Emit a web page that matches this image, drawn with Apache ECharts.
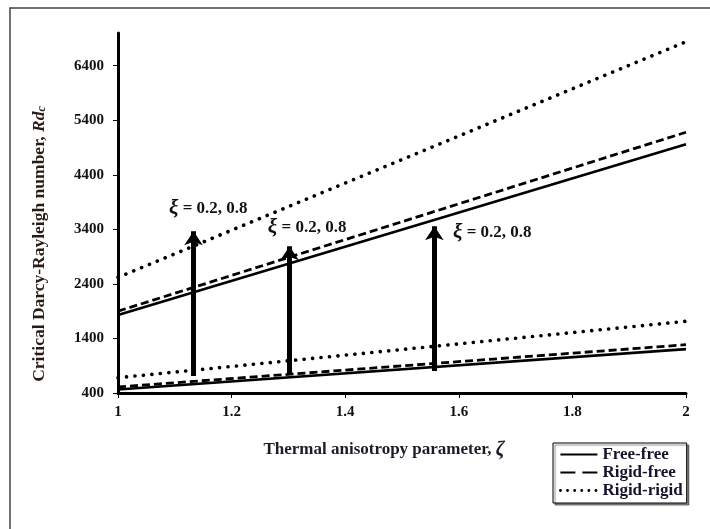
<!DOCTYPE html>
<html>
<head>
<meta charset="utf-8">
<script src="https://cdn.jsdelivr.net/npm/echarts@6/dist/echarts.min.js"></script>
<style>
  html, body { margin: 0; padding: 0; background: #fff; }
  #chart { width: 710px; height: 529px; }
</style>
</head>
<body>
<div id="chart"></div>
<script>
// Thermal anisotropy parameter values at the two ends of each line
const zeta = [1, 2];

// Critical Darcy-Rayleigh number, lower group (xi = 0.2) and upper group (xi = 0.8)
const freeFreeLow = [465, 1205];
const freeFreeHigh = [1830, 4960];
const rigidFreeLow = [510, 1285];
const rigidFreeHigh = [1900, 5180];
const rigidRigidLow = [680, 1715];
const rigidRigidHigh = [2520, 6840];

// Y tick labels
const yTicks = [400, 1400, 2400, 3400, 4400, 5400, 6400];

// Arrows from the xi = 0.2 curve to the xi = 0.8 curve
const arrowZeta = [1.133, 1.302, 1.557];
const arrowFrom = [713, 750, 805];
const arrowTo = [3365, 3090, 3455];

// Arrow captions
const captionZeta = [1.159, 1.333, 1.659];
const captionValue = [3787, 3437, 3345];
const captionText = 'ξ = 0.2, 0.8';

const serif = '"Liberation Serif", "Times New Roman", serif';

function pairs(ys) { return zeta.map((z, i) => [z, ys[i]]); }

const solid = { type: 'solid', width: 2.6, color: '#000' };
const dashed = { type: [8, 4], width: 2.8, color: '#000' };
const dotted = { type: [0.1, 8.4], width: 3.6, cap: 'round', color: '#000' };

function lineSeries(name, data, style) {
  return {
    name: name, type: 'line', data: pairs(data),
    symbol: 'none', lineStyle: style, itemStyle: { color: '#000' },
    silent: true, z: 2
  };
}

const series = [
  lineSeries('Free-free', freeFreeLow, solid),
  lineSeries('Free-free', freeFreeHigh, solid),
  lineSeries('Rigid-free', rigidFreeLow, dashed),
  lineSeries('Rigid-free', rigidFreeHigh, dashed),
  lineSeries('Rigid-rigid', rigidRigidLow, dotted),
  lineSeries('Rigid-rigid', rigidRigidHigh, dotted)
];

// arrows and captions ride on a data-less helper series
series.push({
  type: 'line', name: 'arrows', data: [], symbol: 'none', z: 5,
  markLine: {
    silent: true,
    symbol: ['none', 'arrow'],
    symbolSize: [14, 14],
    label: { show: false },
    lineStyle: { type: 'solid', width: 5, color: '#000' },
    emphasis: { disabled: true },
    data: arrowZeta.map((z, i) => [{ coord: [z, arrowFrom[i]] }, { coord: [z, arrowTo[i]] }])
  },
  markPoint: {
    silent: true,
    symbol: 'circle', symbolSize: 1,
    itemStyle: { color: 'rgba(0,0,0,0)' },
    label: {
      show: true, position: 'inside',
      formatter: '{g|ξ}{t| = 0.2, 0.8}',
      rich: {
        g: { fontFamily: serif, fontStyle: 'italic', fontWeight: 'bold', fontSize: 21, color: '#111' },
        t: { fontFamily: serif, fontWeight: 'bold', fontSize: 17, color: '#111' }
      }
    },
    data: captionZeta.map((z, i) => ({ coord: [z, captionValue[i]], name: captionText }))
  }
});

const chart = echarts.init(document.getElementById('chart'), null, { renderer: 'canvas' });
chart.setOption({
  backgroundColor: '#fff',
  animation: false,
  grid: { left: 118, right: 24, top: 33, bottom: 136, containLabel: false },
  xAxis: {
    type: 'value', min: 1, max: 2, interval: 0.2,
    name: '{n|Thermal anisotropy parameter, }{z|ζ}',
    nameLocation: 'middle', nameGap: 47,
    nameTextStyle: {
      padding: [0, 36, 0, 0],
      rich: {
        n: { fontFamily: serif, fontWeight: 'bold', fontSize: 17, color: '#1c1c28' },
        z: { fontFamily: serif, fontStyle: 'italic', fontWeight: 'bold', fontSize: 20, color: '#1c1c28' }
      }
    },
    axisLine: { show: true, onZero: false, lineStyle: { color: '#000', width: 3 } },
    axisTick: { show: true, length: 5, lineStyle: { color: '#000', width: 1 } },
    axisLabel: { margin: 12, fontFamily: serif, fontWeight: 'bold', fontSize: 15, color: '#111' },
    splitLine: { show: false }
  },
  yAxis: {
    type: 'value', min: 400, max: 7000,
    name: '{n|Critical Darcy-Rayleigh number, }{r|Rd}{s|c}',
    nameLocation: 'middle', nameGap: 70, nameRotate: 90,
    nameTextStyle: {
      padding: [0, 62, 0, 0],
      rich: {
        n: { fontFamily: serif, fontWeight: 'bold', fontSize: 17.5, color: '#2a1c14' },
        r: { fontFamily: serif, fontStyle: 'italic', fontWeight: 'bold', fontSize: 17.5, color: '#2a1c14' },
        s: { fontFamily: serif, fontStyle: 'italic', fontWeight: 'bold', fontSize: 12, color: '#2a1c14', verticalAlign: 'bottom', padding: [6, 0, 0, 0] }
      }
    },
    axisLine: { show: true, onZero: false, lineStyle: { color: '#000', width: 3 } },
    axisTick: { show: true, length: 5, customValues: yTicks, lineStyle: { color: '#000', width: 1 } },
    axisLabel: {
      margin: 14, customValues: yTicks,
      formatter: v => String(v),
      fontFamily: serif, fontWeight: 'bold', fontSize: 15, color: '#111'
    },
    splitLine: { show: false }
  },
  legend: {
    orient: 'vertical', left: 553, top: 443,
    data: [
      { name: 'Free-free', lineStyle: { type: 'solid', width: 2 } },
      { name: 'Rigid-free', lineStyle: { type: [15, 7], width: 2.2 } },
      { name: 'Rigid-rigid', lineStyle: { type: [0.1, 7], width: 2.8, cap: 'round' } }
    ],
    itemStyle: { opacity: 0 },
    itemWidth: 37, itemHeight: 14, itemGap: 1,
    padding: [3, 4, 4, 6],
    backgroundColor: '#fff',
    borderColor: '#000', borderWidth: 1,
    shadowColor: 'rgba(0,0,0,0.45)', shadowOffsetX: 2, shadowOffsetY: 2, shadowBlur: 1,
    selectedMode: false,
    textStyle: { fontFamily: serif, fontWeight: 'bold', fontSize: 17, color: '#14142a', lineHeight: 17 }
  },
  graphic: [{
    type: 'rect', silent: true, z: -1,
    shape: { x: 10, y: 8, width: 760, height: 600 },
    style: { fill: 'none', stroke: '#444', lineWidth: 1.5 }
  }],
  series: series
});
</script>
</body>
</html>
